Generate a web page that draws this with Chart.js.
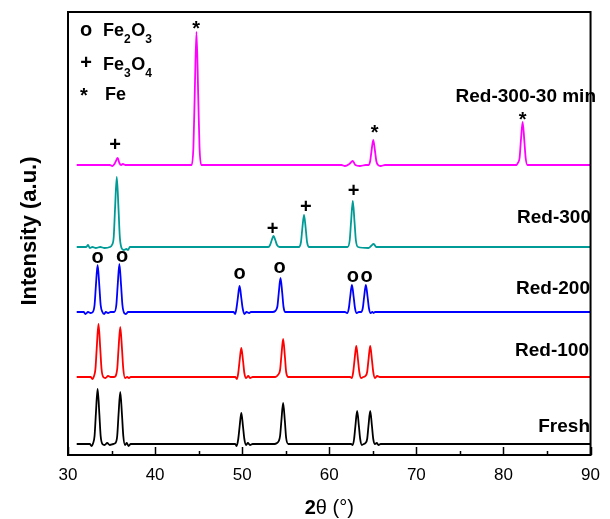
<!DOCTYPE html>
<html>
<head>
<meta charset="utf-8">
<script src="https://cdn.jsdelivr.net/npm/chart.js@4"></script>
<style>
  html, body { margin: 0; padding: 0; background: #fff; }
  #wrap { width: 610px; height: 519px; }
</style>
</head>
<body>
<div id="wrap"><canvas id="xrd" width="610" height="519"></canvas></div>
<script>
// 2theta / intensity pairs (intensity above each trace's own baseline, a.u.)
const fresh = [[31,0],[32.5,0],[32.7,-2],[32.85,0],[33.05,8],[33.2,30],[33.4,55],[33.6,30],[33.75,8],[33.95,0],[34.2,-1],[34.5,1],[34.8,-1],[35.2,0],[35.45,1],[35.65,8],[35.8,29],[36.0,52],[36.2,29],[36.35,8],[36.55,-1],[36.75,1],[36.95,-2],[37.2,0],[49.2,0],[49.35,-2],[49.55,5],[49.7,17],[49.9,31],[50.1,17],[50.25,5],[50.45,-1],[50.65,1],[50.9,-1],[51.2,0],[53.7,0],[54.0,1],[54.2,3],[54.35,8],[54.5,23],[54.7,41],[54.9,23],[55.05,6],[55.3,0],[62.5,0],[62.7,-1],[62.85,5],[63.0,18],[63.2,33],[63.4,18],[63.55,5],[63.75,-1],[63.95,0],[64.15,1],[64.35,5],[64.5,18],[64.7,33],[64.9,18],[65.05,5],[65.25,0],[65.45,1],[65.65,-1],[65.9,0],[90,0]];
const red100 = [[31,0],[32.6,0],[32.8,-2],[32.95,0],[33.15,8],[33.3,29],[33.5,53],[33.7,29],[33.85,8],[34.05,0],[34.3,-1],[34.6,1],[34.9,0],[35.3,0],[35.65,8],[35.8,28],[36.0,50],[36.2,28],[36.35,8],[36.55,-1],[36.8,0],[37.0,-1],[37.2,0],[49.2,0],[49.4,-2],[49.55,4],[49.7,16],[49.9,29],[50.1,16],[50.25,4],[50.45,-1],[50.7,1],[50.9,-1],[51.2,0],[53.8,0],[54.1,2],[54.35,7],[54.5,21],[54.7,38],[54.9,21],[55.05,5],[55.3,0],[62.4,0],[62.6,-1],[62.75,5],[62.9,17],[63.1,31],[63.3,17],[63.45,5],[63.65,-1],[63.9,0],[64.15,1],[64.35,5],[64.5,17],[64.7,31],[64.9,17],[65.05,5],[65.25,-1],[65.5,1],[65.8,0],[90,0]];
const red200 = [[31,0],[31.8,0],[32.0,-2],[32.3,0],[32.6,-1],[32.85,0],[33.05,7],[33.2,26],[33.4,47],[33.6,26],[33.75,7],[33.95,0],[34.15,-2],[34.35,0],[34.6,-1],[34.9,0],[35.3,0],[35.55,7],[35.7,26],[35.9,48],[36.1,26],[36.25,7],[36.45,-1],[36.65,-2],[36.9,0],[49.0,0],[49.2,-2],[49.35,4],[49.5,14],[49.7,26],[49.9,14],[50.05,4],[50.25,-2],[50.5,0],[50.8,-1],[51.0,0],[53.5,0],[53.8,1],[53.95,3],[54.05,6],[54.2,19],[54.4,34],[54.6,19],[54.75,5],[54.95,0],[61.8,0],[62.05,-1],[62.25,4],[62.4,15],[62.6,27],[62.8,15],[62.95,4],[63.15,-1],[63.4,0],[63.65,0],[63.85,4],[64.0,15],[64.2,27],[64.4,15],[64.55,4],[64.75,-1],[64.95,0],[65.1,-1],[65.25,0],[90,0]];
const red300 = [[31,0],[32.1,0],[32.3,2],[32.5,-1],[32.8,0],[33.2,-1],[33.7,0],[34.2,-1],[34.8,0],[35.05,2],[35.25,10],[35.4,38],[35.6,70],[35.8,38],[35.95,10],[36.15,-1],[36.4,-3],[36.7,-2],[36.9,-3],[37.1,0],[53.0,0],[53.2,2],[53.4,7],[53.6,11],[53.8,7],[54.0,2],[54.3,0],[56.5,0],[56.75,5],[56.9,18],[57.1,32],[57.3,18],[57.45,5],[57.7,0],[62.1,0],[62.35,7],[62.5,25],[62.7,46],[62.9,25],[63.05,7],[63.3,0],[64.5,-1],[64.8,1],[65.1,3],[65.4,0],[90,0]];
const red300min = [[31,0],[34.8,0],[35.1,-1],[35.4,2],[35.7,7],[35.9,2],[36.1,0],[36.3,1],[36.6,0],[44.2,0],[44.4,18],[44.55,70],[44.75,133],[44.95,70],[45.1,18],[45.3,0],[61.4,0],[61.8,-1],[62.3,1],[62.7,4],[63.0,0],[63.5,-1],[64.2,0],[64.5,0],[64.7,4],[64.85,14],[65.05,25],[65.25,14],[65.4,4],[65.6,0],[65.9,-1],[66.4,0],[81.5,0],[81.65,2],[81.85,7],[82.0,24],[82.2,43],[82.4,24],[82.55,7],[82.75,0],[90,0]];

const seriesNames = ['Fresh', 'Red-100', 'Red-200', 'Red-300', 'Red-300-30 min'];
const seriesData = [fresh, red100, red200, red300, red300min];
const seriesOffsets = [11, 78, 143, 208, 290];
const seriesColors = ['#000000', '#ff0000', '#0000ff', '#009b96', '#ff00ff'];
const labelY = [23, 99, 161, 232, 353];   // label baselines, in intensity units

// phase markers over the peaks
const markX = [35.4, 44.7, 65.2, 82.2, 53.5, 57.3, 62.8, 33.4, 36.2, 49.7, 54.3, 62.7, 64.3];
const markY = [311, 432, 328, 341, 227, 249, 265, 197, 198, 181, 187, 178, 178];
const markSym = ['+', '*', '*', '*', '+', '+', '+', 'o', 'o', 'o', 'o', 'o', 'o'];

const majorTicks = [30, 40, 50, 60, 70, 80, 90];
const minorTicks = [35, 45, 55, 65, 75, 85];

const FONT = '"Liberation Sans", Arial, sans-serif';

const extras = {
    id: 'extras',
    afterDraw(chart) {
        const ctx = chart.ctx;
        const a = chart.chartArea;
        const xs = chart.scales.x;
        const ys = chart.scales.y;
        ctx.save();
        ctx.fillStyle = '#000';
        ctx.strokeStyle = '#000';

        // frame
        ctx.lineWidth = 2;
        ctx.strokeRect(a.left, a.top, a.right - a.left, a.bottom - a.top);

        // inward ticks on bottom axis
        ctx.lineWidth = 1.5;
        ctx.beginPath();
        majorTicks.forEach((v) => {
            const px = Math.round(xs.getPixelForValue(v)) + 0.5;
            ctx.moveTo(px, a.bottom); ctx.lineTo(px, a.bottom - 8);
        });
        minorTicks.forEach((v) => {
            const px = Math.round(xs.getPixelForValue(v)) + 0.5;
            ctx.moveTo(px, a.bottom); ctx.lineTo(px, a.bottom - 4);
        });
        ctx.stroke();

        // markers
        const shift = { 'o': 0.26, '+': 0.34, '*': 0.6 };
        const ms = 20;
        ctx.font = 'bold ' + ms + 'px ' + FONT;
        ctx.textAlign = 'center';
        ctx.textBaseline = 'alphabetic';
        markX.forEach((x, i) => {
            const s = markSym[i];
            ctx.fillText(s, xs.getPixelForValue(x), ys.getPixelForValue(markY[i]) + shift[s] * ms);
        });

        // trace labels
        ctx.font = 'bold 19px ' + FONT;
        ctx.textAlign = 'right';
        const labelRight = [590, 589, 590, 591, 596];
        seriesNames.forEach((n, i) => {
            ctx.fillText(n, labelRight[i], ys.getPixelForValue(labelY[i]));
        });

        // legend for phases
        ctx.font = 'bold ' + ms + 'px ' + FONT;
        ctx.textAlign = 'center';
        ctx.fillText('o', 86, 31 + 0.26 * ms);
        ctx.fillText('+', 86, 62 + 0.34 * ms);
        ctx.fillText('*', 84, 90 + 0.6 * ms);
        ctx.textAlign = 'left';
        const formula = (parts, x, y) => {
            parts.forEach(([t, sub]) => {
                ctx.font = sub ? 'bold 12px ' + FONT : 'bold 18px ' + FONT;
                ctx.fillText(t, x, sub ? y + 7 : y);
                x += ctx.measureText(t).width + (sub ? 0.5 : 0);
            });
        };
        formula([['Fe'], ['2', 1], ['O'], ['3', 1]], 103, 36);
        formula([['Fe'], ['3', 1], ['O'], ['4', 1]], 103, 70);
        formula([['Fe']], 105, 100);

        // y title
        ctx.save();
        ctx.translate(36, 231);
        ctx.rotate(-Math.PI / 2);
        ctx.font = 'bold 22px ' + FONT;
        ctx.textAlign = 'center';
        ctx.fillText('Intensity (a.u.)', 0, 0);
        ctx.restore();

        // x title: bold "2", regular "θ (°)"
        ctx.textAlign = 'left';
        ctx.font = 'bold 20px ' + FONT;
        const w1 = ctx.measureText('2').width;
        ctx.font = '20px ' + FONT;
        const w2 = ctx.measureText('θ (°)').width;
        const cx = (a.left + a.right) / 2;
        const x0 = cx - (w1 + w2) / 2;
        ctx.font = 'bold 20px ' + FONT;
        ctx.fillText('2', x0, 514);
        ctx.font = '20px ' + FONT;
        ctx.fillText('θ (°)', x0 + w1, 514);

        ctx.restore();
    }
};

new Chart(document.getElementById('xrd'), {
    type: 'line',
    data: {
        datasets: seriesData.map((pts, i) => ({
            label: seriesNames[i],
            data: pts.map((p) => ({ x: p[0], y: p[1] + seriesOffsets[i] })),
            borderColor: seriesColors[i],
            borderWidth: 1.8,
            pointRadius: 0,
            fill: false,
            cubicInterpolationMode: 'monotone',
        })),
    },
    options: {
        responsive: false,
        animation: false,
        layout: { padding: { top: 12, right: 12, left: 0, bottom: 0 } },
        plugins: { legend: { display: false }, tooltip: { enabled: false } },
        scales: {
            x: {
                type: 'linear',
                min: 30,
                max: 90,
                grid: { display: false, drawTicks: false },
                border: { display: false },
                ticks: {
                    stepSize: 10,
                    padding: 10,
                    color: '#000',
                    font: { family: FONT, size: 17 },
                },
                afterFit(scale) { scale.height = 64; },
            },
            y: {
                min: 0,
                max: 443,
                grid: { display: false },
                border: { display: false },
                ticks: { display: false },
                afterFit(scale) { scale.width = 68; },
            },
        },
    },
    plugins: [extras],
});
</script>
</body>
</html>
